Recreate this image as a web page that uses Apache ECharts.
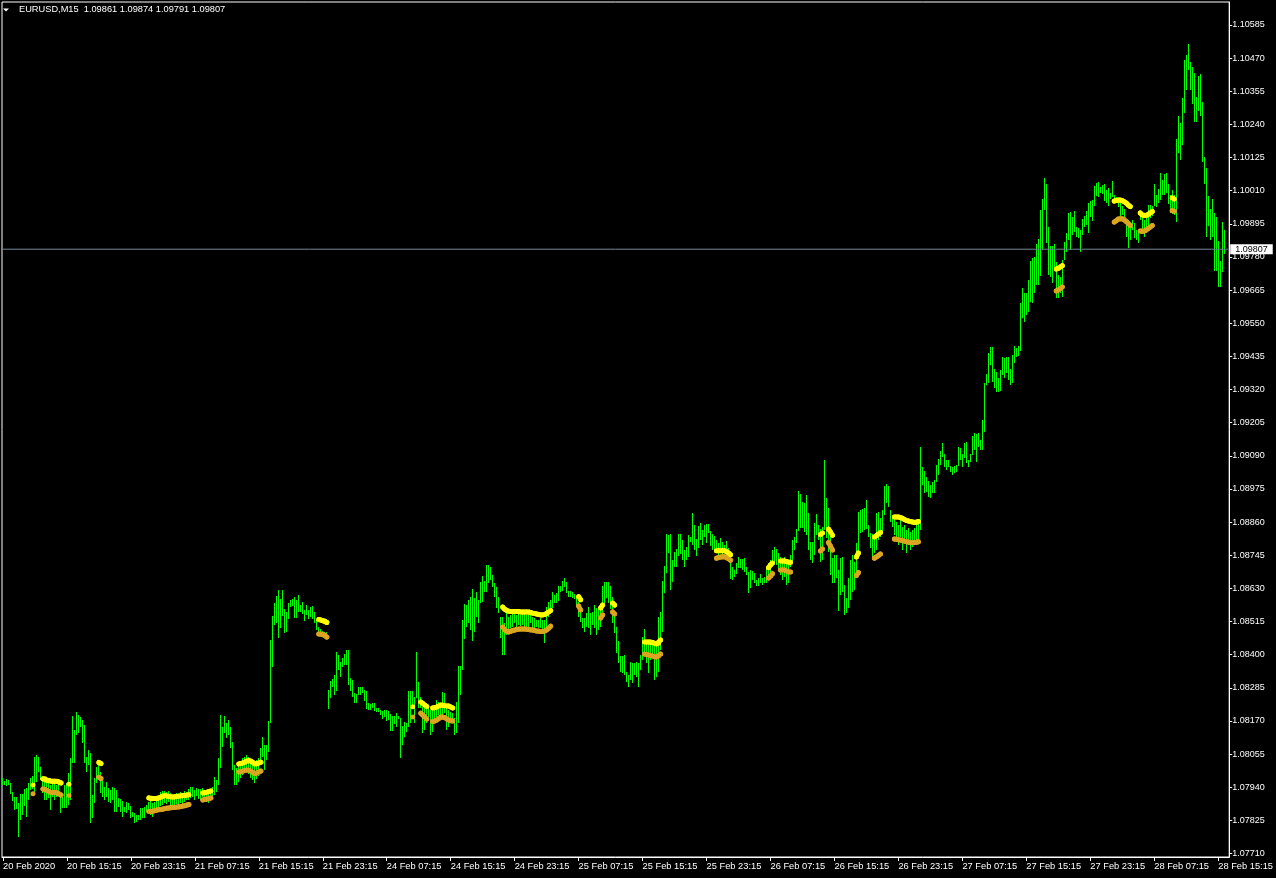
<!DOCTYPE html>
<html><head><meta charset="utf-8">
<script src="https://cdn.jsdelivr.net/npm/echarts@6/dist/echarts.min.js"></script>
<style>html,body{margin:0;padding:0;background:#000;}#c{width:1276px;height:878px;}</style>
</head><body><div id="c"></div>
<script>
const symbolName = 'EURUSD,M15';
const lastOHLC = [1.09861, 1.09874, 1.09791, 1.09807];
const bidPrice = 1.09807;
const timeLabels = ['20 Feb 2020','20 Feb 15:15','20 Feb 23:15','21 Feb 07:15','21 Feb 15:15','21 Feb 23:15','24 Feb 07:15','24 Feb 15:15','24 Feb 23:15','25 Feb 07:15','25 Feb 15:15','25 Feb 23:15','26 Feb 07:15','26 Feb 15:15','26 Feb 23:15','27 Feb 07:15','27 Feb 15:15','27 Feb 23:15','28 Feb 07:15','28 Feb 15:15'];
const barsPerLabel = 32;
const yTicks = [1.07710,1.07825,1.07940,1.08055,1.08170,1.08285,1.08400,1.08515,1.08630,1.08745,1.08860,1.08975,1.09090,1.09205,1.09320,1.09435,1.09550,1.09665,1.09780,1.09895,1.10010,1.10125,1.10240,1.10355,1.10470,1.10585];

const barHigh = [1.07972,1.07962,1.07969,1.07965,1.07955,1.07923,1.07906,1.07906,1.07885,1.07917,
1.07917,1.07934,1.07937,1.07955,1.07972,1.07979,1.08045,1.08052,1.08045,1.08010,
1.07975,1.07965,1.07958,1.07955,1.07948,1.07958,1.07955,1.07948,1.07955,1.07923,
1.07913,1.07948,1.07955,1.07989,1.08041,1.08187,1.08139,1.08201,1.08191,1.08184,
1.08173,1.08156,1.08045,1.08069,1.08059,1.07913,1.07972,1.08010,1.08017,1.07993,
1.07965,1.07941,1.07958,1.07937,1.07930,1.07941,1.07937,1.07930,1.07903,1.07899,
1.07892,1.07871,1.07889,1.07885,1.07875,1.07854,1.07851,1.07844,1.07844,1.07868,
1.07868,1.07871,1.07878,1.07889,1.07896,1.07885,1.07889,1.07896,1.07906,1.07923,
1.07927,1.07927,1.07923,1.07927,1.07920,1.07913,1.07917,1.07920,1.07913,1.07923,
1.07920,1.07927,1.07923,1.07934,1.07941,1.07941,1.07930,1.07937,1.07934,1.07934,
1.07937,1.07930,1.07930,1.07927,1.07934,1.07941,1.07975,1.07965,1.08041,1.08191,
1.08149,1.08187,1.08163,1.08173,1.08149,1.08097,1.08017,1.08007,1.08017,1.08027,
1.08041,1.08045,1.08052,1.08045,1.08034,1.08024,1.08017,1.08034,1.08041,1.08076,
1.08114,1.08086,1.08086,1.08170,1.08451,1.08534,1.08579,1.08603,1.08624,1.08593,
1.08624,1.08558,1.08548,1.08579,1.08590,1.08593,1.08600,1.08590,1.08607,1.08572,
1.08583,1.08555,1.08572,1.08555,1.08565,1.08569,1.08548,1.08520,1.08496,1.08489,
1.08482,1.08479,1.08479,1.08277,1.08309,1.08316,1.08329,1.08409,1.08399,1.08374,
1.08388,1.08402,1.08416,1.08416,1.08319,1.08312,1.08267,1.08263,1.08288,1.08288,
1.08288,1.08277,1.08274,1.08232,1.08229,1.08232,1.08232,1.08215,1.08215,1.08208,
1.08204,1.08208,1.08208,1.08204,1.08194,1.08187,1.08187,1.08197,1.08187,1.08180,
1.08152,1.08166,1.08163,1.08274,1.08274,1.08274,1.08253,1.08409,1.08305,1.08253,
1.08218,1.08218,1.08215,1.08225,1.08208,1.08208,1.08215,1.08243,1.08236,1.08222,
1.08270,1.08267,1.08225,1.08208,1.08201,1.08197,1.08180,1.08236,1.08361,1.08361,
1.08520,1.08576,1.08572,1.08590,1.08600,1.08628,1.08597,1.08617,1.08590,1.08652,
1.08673,1.08656,1.08711,1.08711,1.08704,1.08676,1.08649,1.08635,1.08600,1.08531,
1.08531,1.08510,1.08544,1.08531,1.08538,1.08544,1.08548,1.08538,1.08544,1.08538,
1.08544,1.08548,1.08538,1.08544,1.08538,1.08531,1.08527,1.08520,1.08520,1.08527,
1.08520,1.08520,1.08565,1.08583,1.08590,1.08617,1.08607,1.08614,1.08638,1.08638,
1.08656,1.08666,1.08652,1.08621,1.08621,1.08617,1.08610,1.08597,1.08583,1.08572,
1.08527,1.08527,1.08544,1.08565,1.08544,1.08548,1.08572,1.08562,1.08558,1.08562,
1.08638,1.08652,1.08652,1.08652,1.08638,1.08600,1.08548,1.08496,1.08447,1.08395,
1.08395,1.08399,1.08340,1.08329,1.08374,1.08371,1.08371,1.08374,1.08371,1.08399,
1.08461,1.08489,1.08440,1.08444,1.08440,1.08451,1.08433,1.08440,1.08531,1.08548,
1.08656,1.08708,1.08819,1.08815,1.08819,1.08728,1.08756,1.08767,1.08819,1.08819,
1.08798,1.08763,1.08774,1.08815,1.08808,1.08892,1.08850,1.08801,1.08846,1.08857,
1.08833,1.08850,1.08853,1.08853,1.08829,1.08819,1.08812,1.08798,1.08787,1.08805,
1.08791,1.08780,1.08794,1.08770,1.08735,1.08704,1.08694,1.08718,1.08739,1.08732,
1.08732,1.08735,1.08704,1.08687,1.08694,1.08690,1.08683,1.08659,1.08666,1.08680,
1.08666,1.08669,1.08704,1.08718,1.08728,1.08763,1.08774,1.08767,1.08753,1.08739,
1.08728,1.08739,1.08721,1.08728,1.08746,1.08798,1.08808,1.08836,1.08968,1.08957,
1.08930,1.08926,1.08954,1.08892,1.08791,1.08791,1.08857,1.08888,1.08850,1.08836,
1.08843,1.09075,1.08944,1.08909,1.08833,1.08735,1.08746,1.08746,1.08694,1.08735,
1.08739,1.08642,1.08597,1.08666,1.08728,1.08746,1.08721,1.08787,1.08895,1.08902,
1.08905,1.08909,1.08937,1.08850,1.08822,1.08819,1.08812,1.08892,1.08895,1.08874,
1.08902,1.08985,1.08992,1.08985,1.08902,1.08885,1.08874,1.08860,1.08850,1.08867,
1.08843,1.08850,1.08833,1.08839,1.08826,1.08833,1.08839,1.08850,1.08867,1.09120,
1.09051,1.09037,1.09016,1.09003,1.08989,1.08999,1.09006,1.09058,1.09079,1.09107,
1.09134,1.09096,1.09075,1.09075,1.09055,1.09051,1.09055,1.09058,1.09120,1.09117,
1.09096,1.09134,1.09138,1.09075,1.09096,1.09159,1.09169,1.09166,1.09169,1.09145,
1.09214,1.09343,1.09374,1.09447,1.09467,1.09467,1.09391,1.09381,1.09360,1.09388,
1.09433,1.09429,1.09433,1.09433,1.09391,1.09440,1.09471,1.09464,1.09471,1.09620,
1.09672,1.09655,1.09655,1.09700,1.09766,1.09776,1.09780,1.09825,1.09842,1.09943,
1.09981,1.10054,1.10033,1.09884,1.09818,1.09818,1.09825,1.09762,1.09717,1.09710,
1.09769,1.09832,1.09863,1.09933,1.09936,1.09919,1.09939,1.09884,1.09880,1.09874,
1.09912,1.09922,1.09939,1.09967,1.09974,1.09978,1.10026,1.10037,1.10040,1.10023,
1.10030,1.10033,1.10012,1.10019,1.10002,1.10043,1.09995,1.09988,1.09981,1.09967,
1.09957,1.09946,1.09891,1.09908,1.09901,1.09908,1.09898,1.09874,1.09863,1.09933,
1.09926,1.09908,1.09919,1.09960,1.09960,1.09957,1.10033,1.09995,1.10016,1.10071,
1.10047,1.10068,1.10071,1.10033,1.09995,1.10012,1.09995,1.10189,1.10269,1.10245,
1.10332,1.10463,1.10481,1.10519,1.10457,1.10439,1.10418,1.10335,1.10408,1.10415,
1.10318,1.10127,1.10089,1.09991,1.09946,1.09981,1.09933,1.09919,1.09835,1.09766,
1.09901,1.09874];

const barLow = [1.07948,1.07948,1.07944,1.07948,1.07917,1.07892,1.07861,1.07864,1.07767,1.07826,
1.07844,1.07875,1.07837,1.07896,1.07930,1.07934,1.07923,1.07958,1.07993,1.07965,
1.07920,1.07896,1.07896,1.07903,1.07861,1.07906,1.07896,1.07906,1.07923,1.07851,
1.07868,1.07868,1.07868,1.07878,1.07896,1.08024,1.08024,1.08121,1.08128,1.08149,
1.08093,1.08024,1.07993,1.08017,1.07816,1.07833,1.07885,1.07955,1.07972,1.07920,
1.07906,1.07896,1.07906,1.07889,1.07885,1.07896,1.07854,1.07854,1.07871,1.07854,
1.07837,1.07854,1.07851,1.07861,1.07833,1.07837,1.07816,1.07819,1.07826,1.07826,
1.07833,1.07833,1.07854,1.07851,1.07844,1.07837,1.07854,1.07861,1.07868,1.07875,
1.07878,1.07885,1.07882,1.07889,1.07875,1.07875,1.07878,1.07882,1.07875,1.07885,
1.07882,1.07889,1.07896,1.07896,1.07903,1.07906,1.07896,1.07910,1.07899,1.07896,
1.07906,1.07892,1.07889,1.07885,1.07896,1.07903,1.07913,1.07923,1.07948,1.08007,
1.08079,1.08128,1.08111,1.08121,1.08076,1.08000,1.07948,1.07948,1.07958,1.07972,
1.07982,1.07993,1.08000,1.07986,1.07972,1.07965,1.07955,1.07969,1.07979,1.08017,
1.08045,1.08000,1.08034,1.08062,1.08163,1.08357,1.08503,1.08510,1.08458,1.08492,
1.08534,1.08475,1.08479,1.08524,1.08565,1.08569,1.08527,1.08527,1.08548,1.08548,
1.08541,1.08517,1.08538,1.08524,1.08531,1.08524,1.08510,1.08486,1.08475,1.08468,
1.08461,1.08461,1.08465,1.08211,1.08250,1.08288,1.08260,1.08274,1.08347,1.08322,
1.08357,1.08364,1.08364,1.08295,1.08274,1.08253,1.08232,1.08232,1.08260,1.08260,
1.08267,1.08239,1.08211,1.08208,1.08208,1.08215,1.08204,1.08201,1.08201,1.08191,
1.08177,1.08184,1.08170,1.08173,1.08135,1.08135,1.08159,1.08149,1.08177,1.08041,
1.08086,1.08114,1.08132,1.08149,1.08163,1.08218,1.08163,1.08250,1.08215,1.08215,
1.08128,1.08139,1.08163,1.08173,1.08121,1.08132,1.08163,1.08184,1.08191,1.08184,
1.08184,1.08197,1.08139,1.08149,1.08166,1.08163,1.08121,1.08128,1.08163,1.08260,
1.08347,1.08454,1.08496,1.08510,1.08486,1.08447,1.08479,1.08531,1.08510,1.08579,
1.08583,1.08617,1.08617,1.08649,1.08659,1.08635,1.08600,1.08562,1.08544,1.08458,
1.08399,1.08399,1.08468,1.08475,1.08492,1.08496,1.08510,1.08492,1.08503,1.08499,
1.08503,1.08492,1.08496,1.08492,1.08510,1.08492,1.08492,1.08496,1.08492,1.08492,
1.08486,1.08440,1.08475,1.08531,1.08544,1.08562,1.08579,1.08579,1.08586,1.08617,
1.08621,1.08635,1.08614,1.08600,1.08600,1.08597,1.08593,1.08565,1.08531,1.08513,
1.08492,1.08479,1.08496,1.08492,1.08468,1.08503,1.08492,1.08468,1.08486,1.08496,
1.08548,1.08579,1.08597,1.08579,1.08558,1.08510,1.08475,1.08406,1.08371,1.08340,
1.08336,1.08329,1.08305,1.08288,1.08312,1.08302,1.08329,1.08322,1.08288,1.08347,
1.08381,1.08406,1.08371,1.08336,1.08381,1.08399,1.08312,1.08322,1.08340,1.08416,
1.08479,1.08614,1.08683,1.08753,1.08624,1.08652,1.08704,1.08704,1.08742,1.08749,
1.08728,1.08704,1.08728,1.08739,1.08791,1.08780,1.08763,1.08742,1.08770,1.08798,
1.08780,1.08808,1.08787,1.08822,1.08777,1.08763,1.08763,1.08756,1.08746,1.08763,
1.08742,1.08753,1.08760,1.08728,1.08662,1.08659,1.08669,1.08680,1.08701,1.08701,
1.08694,1.08687,1.08676,1.08614,1.08631,1.08659,1.08649,1.08638,1.08638,1.08649,
1.08642,1.08649,1.08649,1.08659,1.08683,1.08711,1.08718,1.08711,1.08694,1.08676,
1.08659,1.08669,1.08642,1.08649,1.08704,1.08721,1.08763,1.08787,1.08829,1.08839,
1.08839,1.08826,1.08815,1.08763,1.08728,1.08718,1.08746,1.08815,1.08798,1.08721,
1.08728,1.08833,1.08805,1.08756,1.08676,1.08649,1.08649,1.08666,1.08551,1.08607,
1.08617,1.08538,1.08544,1.08562,1.08590,1.08617,1.08624,1.08666,1.08756,1.08822,
1.08826,1.08833,1.08836,1.08808,1.08770,1.08728,1.08753,1.08763,1.08798,1.08808,
1.08826,1.08885,1.08926,1.08912,1.08860,1.08843,1.08815,1.08798,1.08780,1.08808,
1.08763,1.08791,1.08753,1.08780,1.08763,1.08774,1.08780,1.08791,1.08798,1.08833,
1.08989,1.08961,1.08964,1.08947,1.08944,1.08961,1.08961,1.08999,1.09023,1.09058,
1.09086,1.09051,1.09041,1.09051,1.09034,1.09023,1.09030,1.09034,1.09055,1.09075,
1.09051,1.09082,1.09065,1.09051,1.09068,1.09093,1.09110,1.09068,1.09120,1.09110,
1.09110,1.09173,1.09336,1.09343,1.09405,1.09346,1.09325,1.09311,1.09311,1.09315,
1.09370,1.09360,1.09377,1.09353,1.09336,1.09343,1.09412,1.09433,1.09436,1.09454,
1.09568,1.09554,1.09579,1.09589,1.09624,1.09620,1.09655,1.09683,1.09683,1.09714,
1.09804,1.09943,1.09828,1.09717,1.09710,1.09690,1.09735,1.09638,1.09638,1.09655,
1.09641,1.09769,1.09797,1.09839,1.09804,1.09856,1.09867,1.09849,1.09846,1.09797,
1.09856,1.09884,1.09891,1.09863,1.09919,1.09905,1.09957,1.09991,1.09988,1.10002,
1.09998,1.09974,1.09967,1.09957,1.09981,1.09988,1.09967,1.09967,1.09953,1.09922,
1.09926,1.09908,1.09849,1.09811,1.09839,1.09874,1.09846,1.09839,1.09828,1.09908,
1.09867,1.09849,1.09863,1.09884,1.09915,1.09922,1.09957,1.09953,1.09967,1.09978,
1.09995,1.09995,1.10002,1.09964,1.09933,1.09929,1.09926,1.09901,1.10141,1.10116,
1.10168,1.10280,1.10359,1.10429,1.10359,1.10311,1.10248,1.10248,1.10287,1.10269,
1.10109,1.10033,1.09849,1.09887,1.09839,1.09849,1.09731,1.09731,1.09676,1.09676,
1.09728,1.09791];

// upper (yellow) indicator segments: [first bar index, values]
const upperSegments = [
 [15,[1.07948]],
 [20,[1.07969,1.07969,1.07964,1.07964,1.07961,1.07961,1.07961,1.07961,1.07958,1.07955]],
 [33,[1.07950]],
 [48,[1.08026,1.08022]],
 [73,[1.07903,1.07901,1.07901,1.07901,1.07901,1.07903,1.07906,1.07910,1.07911,1.07910,1.07908,1.07906,1.07906,1.07906,1.07908,1.07910,1.07910,1.07911,1.07911,1.07913,1.07914]],
 [100,[1.07920,1.07922,1.07923,1.07925,1.07927]],
 [118,[1.08021,1.08022,1.08024,1.08027,1.08031,1.08033,1.08031,1.08026,1.08021,1.08021,1.08024,1.08027]],
 [158,[1.08522,1.08520,1.08518,1.08517,1.08512]],
 [205,[1.08219]],
 [209,[1.08236,1.08231,1.08225,1.08220]],
 [215,[1.08215,1.08216,1.08218,1.08222,1.08225,1.08225,1.08223,1.08222,1.08222,1.08218,1.08215]],
 [250,[1.08565,1.08558,1.08553,1.08551,1.08550,1.08550,1.08550,1.08550,1.08550,1.08548,1.08548,1.08548,1.08548,1.08548,1.08546,1.08544,1.08543,1.08541,1.08539,1.08538,1.08538,1.08539,1.08543,1.08548,1.08553]],
 [288,[1.08601,1.08591]],
 [299,[1.08562,1.08572]],
 [305,[1.08579,1.08572]],
 [321,[1.08444,1.08444,1.08444,1.08444,1.08442,1.08440,1.08437,1.08440,1.08451]],
 [357,[1.08761,1.08761,1.08761,1.08761,1.08761,1.08758,1.08753,1.08747]],
 [383,[1.08702,1.08711,1.08718]],
 [389,[1.08725,1.08725,1.08725,1.08723,1.08721,1.08721]],
 [409,[1.08817,1.08822]],
 [413,[1.08836,1.08826,1.08814]],
 [427,[1.08739,1.08753]],
 [436,[1.08808,1.08813,1.08819,1.08824]],
 [446,[1.08878,1.08878,1.08878,1.08876,1.08873,1.08869,1.08866,1.08864,1.08862,1.08860,1.08859,1.08859,1.08862]],
 [527,[1.09738,1.09740,1.09745,1.09750]],
 [556,[1.09974,1.09976,1.09978,1.09978,1.09976,1.09972,1.09967,1.09960,1.09955]],
 [569,[1.09933,1.09926,1.09924,1.09924,1.09927,1.09933,1.09938]],
 [585,[1.09985,1.09981]]
];
// lower (orange) indicator segments
const lowerSegments = [
 [15,[1.07917]],
 [20,[1.07934,1.07932,1.07929,1.07925,1.07922,1.07922,1.07923,1.07920,1.07917,1.07913]],
 [33,[1.07911]],
 [48,[1.07975,1.07970]],
 [73,[1.07857,1.07857,1.07857,1.07859,1.07861,1.07863,1.07863,1.07864,1.07866,1.07868,1.07868,1.07870,1.07870,1.07870,1.07871,1.07871,1.07873,1.07875,1.07876,1.07878,1.07880]],
 [100,[1.07896,1.07897,1.07899,1.07901,1.07903]],
 [118,[1.07993,1.07994,1.07996,1.07998,1.08000,1.08000,1.07996,1.07991,1.07987,1.07989,1.07993,1.07996]],
 [158,[1.08472,1.08472,1.08470,1.08468,1.08461]],
 [205,[1.08184]],
 [209,[1.08197,1.08191,1.08184,1.08177]],
 [215,[1.08168,1.08170,1.08173,1.08178,1.08184,1.08184,1.08182,1.08177,1.08173,1.08171,1.08170]],
 [250,[1.08496,1.08486,1.08480,1.08479,1.08480,1.08484,1.08486,1.08487,1.08489,1.08489,1.08489,1.08489,1.08489,1.08487,1.08486,1.08486,1.08484,1.08482,1.08482,1.08480,1.08480,1.08482,1.08486,1.08492,1.08499]],
 [288,[1.08569,1.08555]],
 [299,[1.08527,1.08538]],
 [305,[1.08548,1.08541]],
 [321,[1.08402,1.08400,1.08399,1.08397,1.08395,1.08392,1.08392,1.08395,1.08402]],
 [357,[1.08735,1.08737,1.08739,1.08740,1.08740,1.08739,1.08733,1.08728]],
 [383,[1.08666,1.08673,1.08681]],
 [389,[1.08694,1.08695,1.08694,1.08690,1.08687,1.08687]],
 [409,[1.08760,1.08767]],
 [413,[1.08789,1.08777,1.08763]],
 [427,[1.08675,1.08685]],
 [436,[1.08735,1.08739,1.08744,1.08749]],
 [446,[1.08801,1.08801,1.08799,1.08798,1.08796,1.08794,1.08792,1.08791,1.08789,1.08789,1.08789,1.08789,1.08792]],
 [527,[1.09662,1.09665,1.09670,1.09676]],
 [556,[1.09901,1.09906,1.09912,1.09913,1.09913,1.09910,1.09903,1.09896,1.09889]],
 [569,[1.09870,1.09868,1.09870,1.09874,1.09879,1.09884,1.09889]],
 [585,[1.09941,1.09939]]
];

const FONT = '"Liberation Sans", Arial, sans-serif';
const nBars = barHigh.length;
const nCats = nBars + 2;
const categories = Array.from({length: nCats}, (_, i) =>
  (i % barsPerLabel === 0 && i / barsPerLabel < timeLabels.length) ? timeLabels[i / barsPerLabel] : '');
const isLabelIdx = (i) => i % barsPerLabel === 0 && i / barsPerLabel < timeLabels.length;
const barData = barHigh.map((h, i) => [i, barLow[i], h]);
function buildBand(segs) {
  const arr = new Array(nCats).fill(null);
  segs.forEach(([s, vals]) => vals.forEach((v, k) => { arr[s + k] = v; }));
  return arr;
}
const upperBand = buildBand(upperSegments);
const lowerBand = buildBand(lowerSegments);
const bidLine = new Array(nCats).fill(null);
bidLine[0] = bidPrice; bidLine[nCats - 1] = bidPrice;

const chart = echarts.init(document.getElementById('c'), null, {renderer: 'canvas'});
const bandSeries = (name, data, color) => ({
  name, type: 'line', data, connectNulls: false, silent: true, animation: false,
  symbol: 'circle', symbolSize: 5, showSymbol: true, showAllSymbol: true,
  itemStyle: {color, borderWidth: 0},
  lineStyle: {color, width: 5, cap: 'round', join: 'round'},
  emphasis: {disabled: true}, z: 5
});

chart.setOption({
  animation: false,
  backgroundColor: '#000',
  grid: {left: 2, right: 46, top: 2, bottom: 21, show: true, borderColor: '#fff', borderWidth: 1, containLabel: false},
  xAxis: {
    type: 'category', data: categories, boundaryGap: true,
    axisLine: {show: true, lineStyle: {color: '#fff', width: 1}},
    axisTick: {show: true, alignWithLabel: true, interval: (i) => isLabelIdx(i), length: 4, lineStyle: {color: '#fff'}},
    axisLabel: {interval: (i) => isLabelIdx(i), align: 'left', color: '#fff', fontSize: 9.3, fontFamily: FONT, margin: 5},
    splitLine: {show: false}
  },
  yAxis: {
    type: 'value', position: 'right', min: 1.076979, max: 1.106648, scale: true,
    axisLine: {show: true, lineStyle: {color: '#fff', width: 1}},
    axisTick: {show: true, length: 3, lineStyle: {color: '#fff'}, customValues: yTicks},
    axisLabel: {color: '#fff', fontSize: 9, fontFamily: FONT, margin: 3, customValues: yTicks, formatter: (v) => v.toFixed(5)},
    splitLine: {show: false}
  },
  graphic: [
    {type: 'polygon', shape: {points: [[3, 8.5], [9, 8.5], [6, 11.5]]}, style: {fill: '#fff'}, silent: true},
    {type: 'text', left: 19, top: 5, silent: true,
     style: {text: symbolName + '  ' + lastOHLC.map(v => v.toFixed(5)).join(' '), fill: '#fff', font: '9.25px ' + FONT}}
  ],
  series: [
    {
      type: 'custom', name: 'bars', data: barData, silent: true, animation: false, z: 2,
      encode: {x: 0, y: [1, 2]},
      renderItem: function (params, api) {
        const lo = api.coord([api.value(0), api.value(1)]);
        const hi = api.coord([api.value(0), api.value(2)]);
        const px = Math.floor(lo[0]) + 0.5;
        let y1 = Math.round(hi[1]), y2 = Math.round(lo[1]);
        if (y2 - y1 < 1) y2 = y1 + 1;
        return {type: 'line', shape: {x1: px, y1: y1, x2: px, y2: y2}, style: {stroke: '#00ff00', lineWidth: 1}};
      }
    },
    {
      name: 'bid', type: 'line', data: bidLine, connectNulls: true, silent: true, animation: false,
      showSymbol: false, symbol: 'none', z: 3,
      lineStyle: {color: '#778899', width: 1},
      emphasis: {disabled: true},
      endLabel: {show: true, distance: 2, formatter: bidPrice.toFixed(5), color: '#000', backgroundColor: '#fff',
                 padding: [1, 5, 0, 5], fontSize: 9, fontFamily: FONT}
    },
    bandSeries('lower', lowerBand, '#daa520'),
    bandSeries('upper', upperBand, '#ffff00')
  ]
});
</script>
</body></html>
